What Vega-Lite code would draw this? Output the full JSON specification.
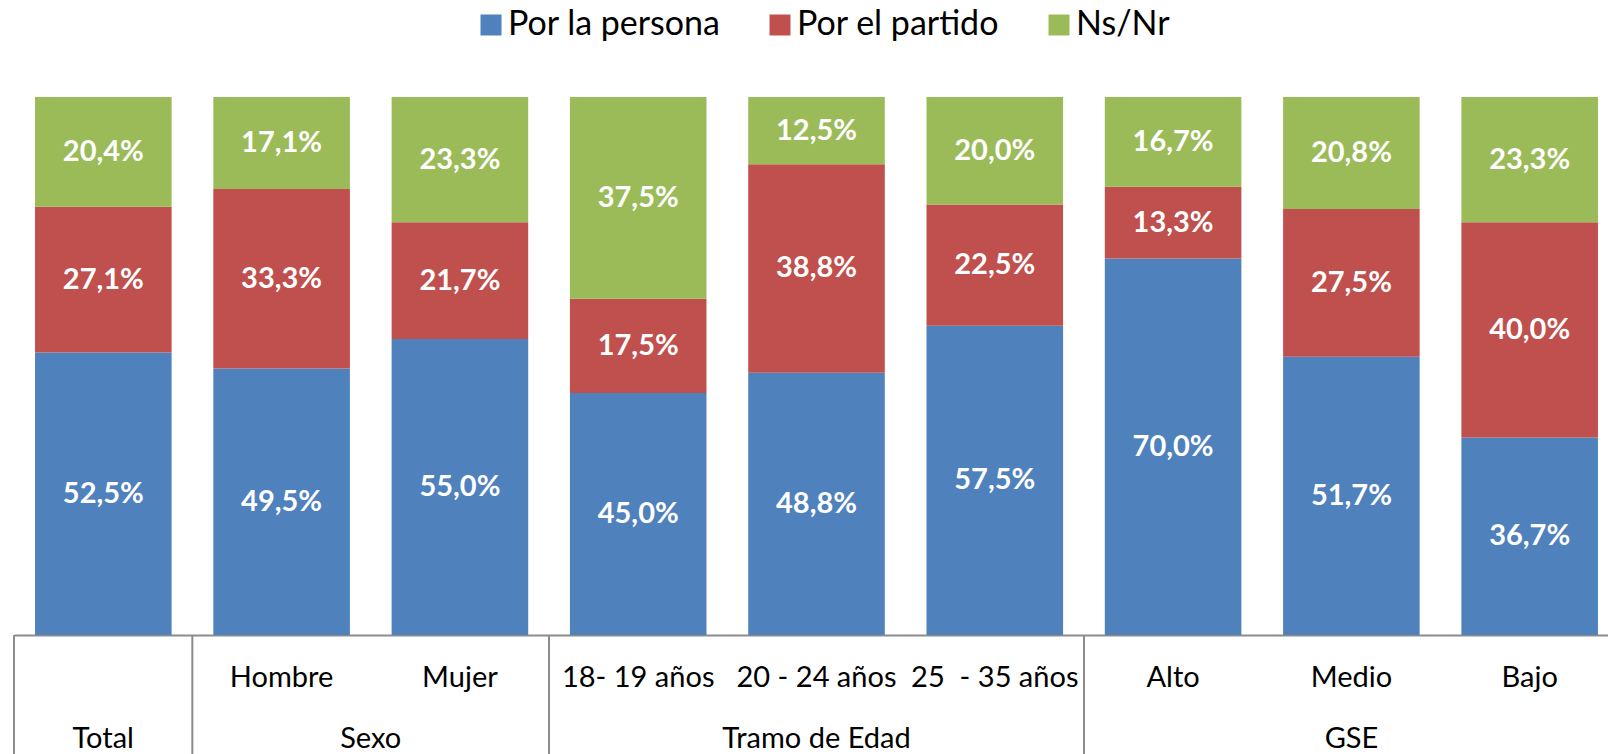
{
  "$schema": "https://vega.github.io/schema/vega-lite/v6.json",
  "autosize": {"type": "none"},
  "width": 1594,
  "height": 538,
  "padding": {"left": 14, "top": 97, "right": 0, "bottom": 119},
  "config": {
    "view": {"stroke": null},
    "font": "Lato",
    "locale": {"number": {"decimal": ",", "thousands": ".", "grouping": [3], "currency": ["", " €"]}}
  },
  "datasets": {
    "bars": [
      {"cat": "Total", "serie": "Por la persona", "k": 1, "v": 0.525},
      {"cat": "Total", "serie": "Por el partido", "k": 2, "v": 0.271},
      {"cat": "Total", "serie": "Ns/Nr", "k": 3, "v": 0.204},
      {"cat": "Hombre", "serie": "Por la persona", "k": 1, "v": 0.495},
      {"cat": "Hombre", "serie": "Por el partido", "k": 2, "v": 0.333},
      {"cat": "Hombre", "serie": "Ns/Nr", "k": 3, "v": 0.171},
      {"cat": "Mujer", "serie": "Por la persona", "k": 1, "v": 0.550},
      {"cat": "Mujer", "serie": "Por el partido", "k": 2, "v": 0.217},
      {"cat": "Mujer", "serie": "Ns/Nr", "k": 3, "v": 0.233},
      {"cat": "18- 19 años", "serie": "Por la persona", "k": 1, "v": 0.450},
      {"cat": "18- 19 años", "serie": "Por el partido", "k": 2, "v": 0.175},
      {"cat": "18- 19 años", "serie": "Ns/Nr", "k": 3, "v": 0.375},
      {"cat": "20 - 24 años", "serie": "Por la persona", "k": 1, "v": 0.488},
      {"cat": "20 - 24 años", "serie": "Por el partido", "k": 2, "v": 0.388},
      {"cat": "20 - 24 años", "serie": "Ns/Nr", "k": 3, "v": 0.125},
      {"cat": "25\u00a0 - 35 años", "serie": "Por la persona", "k": 1, "v": 0.575},
      {"cat": "25\u00a0 - 35 años", "serie": "Por el partido", "k": 2, "v": 0.225},
      {"cat": "25\u00a0 - 35 años", "serie": "Ns/Nr", "k": 3, "v": 0.200},
      {"cat": "Alto", "serie": "Por la persona", "k": 1, "v": 0.700},
      {"cat": "Alto", "serie": "Por el partido", "k": 2, "v": 0.133},
      {"cat": "Alto", "serie": "Ns/Nr", "k": 3, "v": 0.167},
      {"cat": "Medio", "serie": "Por la persona", "k": 1, "v": 0.517},
      {"cat": "Medio", "serie": "Por el partido", "k": 2, "v": 0.275},
      {"cat": "Medio", "serie": "Ns/Nr", "k": 3, "v": 0.208},
      {"cat": "Bajo", "serie": "Por la persona", "k": 1, "v": 0.367},
      {"cat": "Bajo", "serie": "Por el partido", "k": 2, "v": 0.400},
      {"cat": "Bajo", "serie": "Ns/Nr", "k": 3, "v": 0.233}
    ],
    "groups": [
      {"grupo": "Total", "n": 1, "orden": 1},
      {"grupo": "Sexo", "n": 2, "orden": 2},
      {"grupo": "Tramo de Edad", "n": 3, "orden": 3},
      {"grupo": "GSE", "n": 3, "orden": 4}
    ]
  },
  "layer": [
    {
      "data": {"name": "bars"},
      "encoding": {
        "x": {
          "field": "cat",
          "type": "nominal",
          "sort": ["Total", "Hombre", "Mujer", "18- 19 años", "20 - 24 años", "25\u00a0 - 35 años", "Alto", "Medio", "Bajo"],
          "scale": {"range": [0, 1605], "paddingInner": 0.234, "paddingOuter": 0.118},
          "axis": {
            "title": null,
            "ticks": false,
            "grid": false,
            "labelAngle": 0,
            "labelExpr": "datum.label == 'Total' ? '' : datum.label",
            "labelFont": "Lato",
            "labelFontSize": 29,
            "labelColor": "#000000",
            "labelPadding": 42,
            "labelBaseline": "middle",
            "labelLimit": 400,
            "labelOverlap": false,
            "domainColor": "#8C8C8C",
            "domainWidth": 2
          }
        },
        "order": {"field": "k", "type": "quantitative"}
      },
      "layer": [
        {
          "mark": {"type": "bar"},
          "encoding": {
            "y": {"field": "v", "type": "quantitative", "stack": "normalize", "scale": {"domain": [0, 1], "nice": false}, "axis": null},
            "color": {
              "field": "serie",
              "type": "nominal",
              "scale": {"domain": ["Por la persona", "Por el partido", "Ns/Nr"], "range": ["#4F81BD", "#C0504D", "#9BBB59"]},
              "legend": {
                "orient": "none",
                "legendX": 460,
                "legendY": -89,
                "direction": "horizontal",
                "title": null,
                "symbolType": "square",
                "symbolSize": 441,
                "symbolStrokeWidth": 0,
                "labelFont": "Lato",
                "labelFontSize": 34,
                "labelColor": "#000000",
                "labelOffset": 0,
                "columnPadding": 42,
                "labelLimit": 400
              }
            }
          }
        },
        {
          "mark": {"type": "text", "color": "#FFFFFF", "fontWeight": "bold", "fontSize": 29, "font": "Lato", "baseline": "middle"},
          "encoding": {
            "y": {"field": "v", "type": "quantitative", "stack": "normalize", "bandPosition": 0.5},
            "detail": {"field": "serie"},
            "text": {"field": "v", "type": "quantitative", "format": ".1%"}
          }
        }
      ]
    },
    {
      "data": {"name": "groups"},
      "encoding": {
        "order": {"field": "orden", "type": "quantitative"}
      },
      "layer": [
        {
          "mark": {"type": "rule", "color": "#8C8C8C", "strokeWidth": 2},
          "encoding": {
            "x": {"field": "n", "type": "quantitative", "stack": "zero", "bandPosition": 0, "scale": {"domain": [0, 9], "range": [0, 1605], "nice": false, "zero": false}, "axis": null},
            "y": {"datum": 0, "type": "quantitative", "scale": {"domain": [0, 1], "nice": false}},
            "y2": {"datum": -0.25}
          }
        },
        {
          "mark": {"type": "text", "color": "#000000", "fontSize": 29, "font": "Lato", "baseline": "middle"},
          "encoding": {
            "x": {"field": "n", "type": "quantitative", "stack": "zero", "bandPosition": 0.5},
            "y": {"datum": -0.193, "type": "quantitative"},
            "text": {"field": "grupo"}
          }
        }
      ]
    }
  ],
  "resolve": {"scale": {"x": "independent"}}
}
